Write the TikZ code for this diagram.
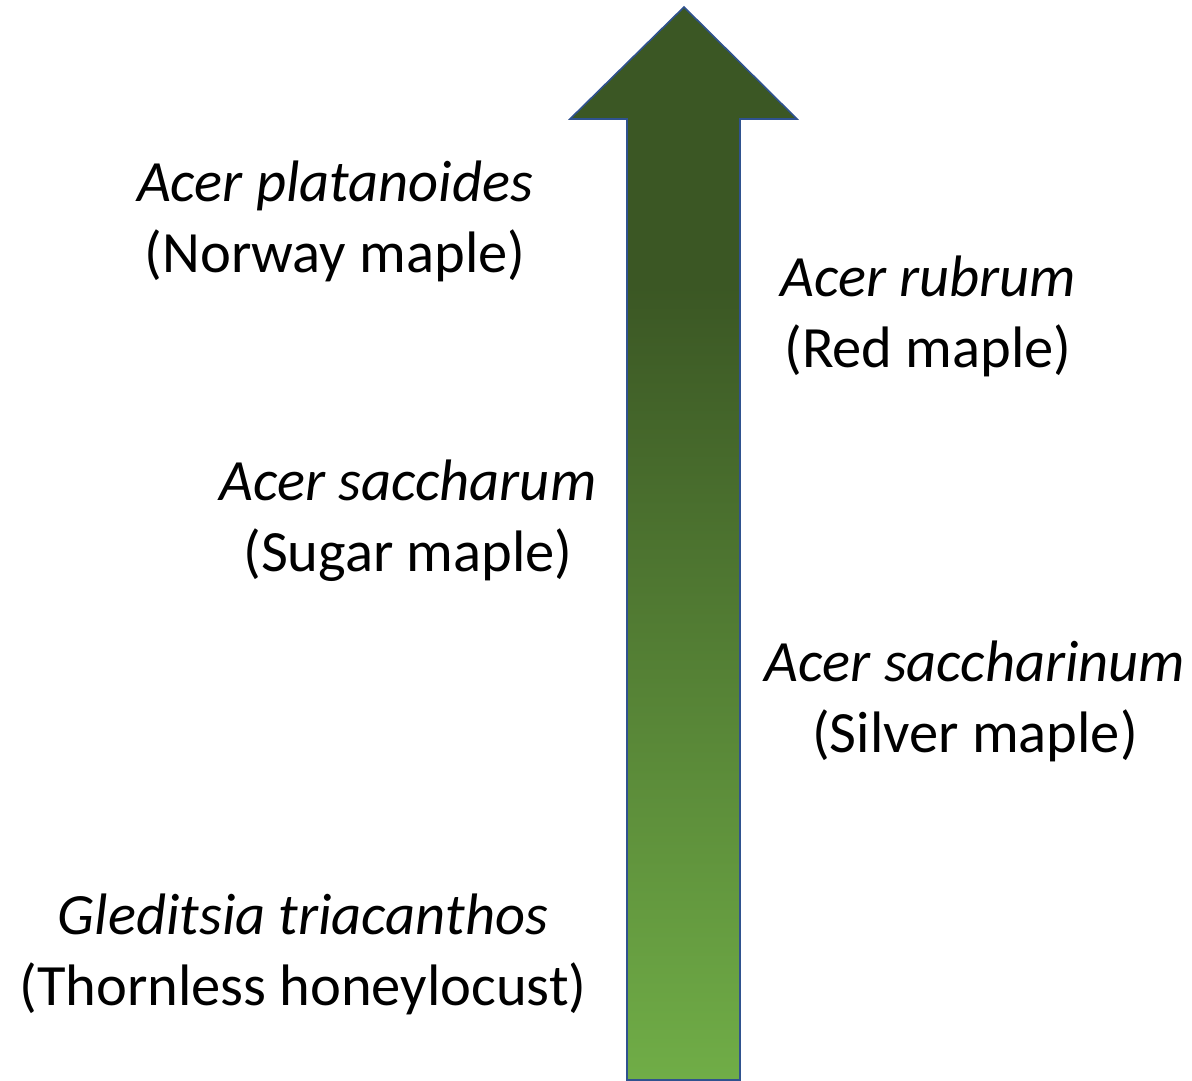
\documentclass[tikz,border=0pt]{standalone}
\usepackage{fontspec}
\setmainfont{Carlito}
\definecolor{dkgreen}{HTML}{3B5724}
\definecolor{ltgreen}{HTML}{70AD47}
\definecolor{edgeblue}{HTML}{2F528F}
\pgfdeclareverticalshading{arrowshade}{100bp}{
  color(0bp)=(ltgreen);
  color(25bp)=(ltgreen);
  color(62bp)=(dkgreen);
  color(100bp)=(dkgreen)}
\begin{document}
\begin{tikzpicture}[x=1pt,y=-1pt,
  lbl/.style={font=\fontsize{58.5}{71}\selectfont, align=center, inner sep=0pt, text=black}]
\useasboundingbox (0,0) rectangle (1192,1081);
\path[draw=edgeblue, line width=1.6pt, shading=arrowshade, shading angle=0]
  (684,7) -- (797,119) -- (740,119) -- (740,1080) -- (627,1080) -- (627,119) -- (570,119) -- cycle;
\node[lbl] (plat) at (335,221) {\textit{Acer platanoides}\\(Norway maple)};
\node[lbl] (rub) at (928,316) {\textit{Acer rubrum}\\(Red maple)};
\node[lbl] (sacc) at (408,521) {\textit{Acer saccharum}\\(Sugar maple)};
\node[lbl] (sacn) at (975,701) {\textit{Acer saccharinum}\\(Silver maple)};
\node[lbl] (gled) at (303,954) {\textit{Gleditsia triacanthos}\\(Thornless honeylocust)};
\end{tikzpicture}
\end{document}
